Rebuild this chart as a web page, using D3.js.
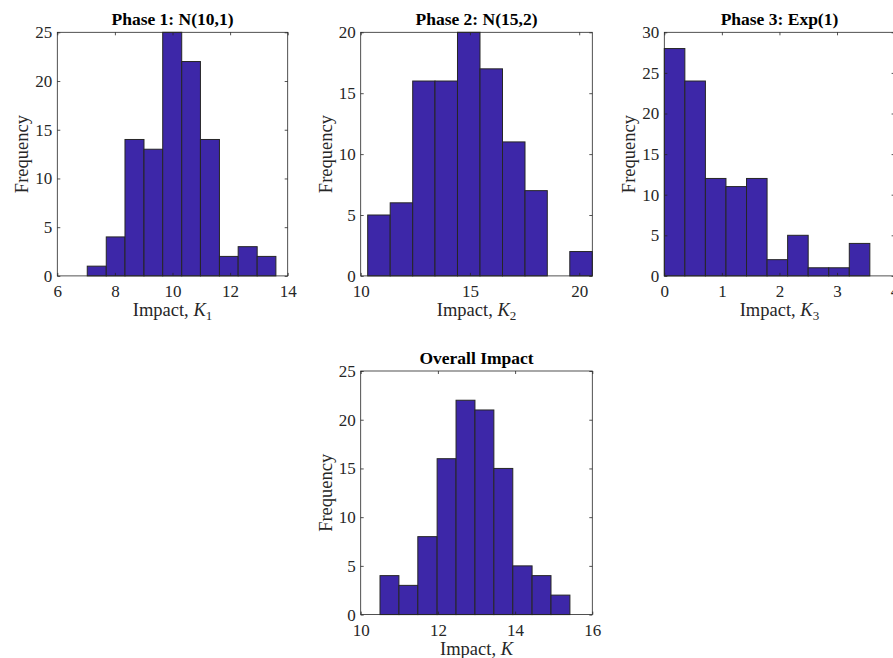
<!DOCTYPE html>
<html>
<head>
<meta charset="utf-8">
<script src="https://cdn.jsdelivr.net/npm/d3@7"></script>
<style>
  html, body { margin: 0; padding: 0; background: #ffffff; }
  svg { display: block; }
  svg text { font-family: "Liberation Serif", "DejaVu Serif", serif !important; }
</style>
</head>
<body>
<svg id="chart" width="893" height="658"></svg>
<script>
// ---------------- data ----------------
const phase1Edges  = [7.04, 7.70, 8.35, 9.01, 9.66, 10.32, 10.97, 11.63, 12.28, 12.94, 13.59];
const phase1Counts = [1, 4, 14, 13, 25, 22, 14, 2, 3, 2];

const phase2Edges  = [10.32, 11.35, 12.38, 13.40, 14.43, 15.46, 16.49, 17.52, 18.54, 19.57, 20.60];
const phase2Counts = [5, 6, 16, 16, 20, 17, 11, 7, 0, 2];

const phase3Edges  = [0, 0.357, 0.714, 1.071, 1.428, 1.785, 2.142, 2.499, 2.856, 3.213, 3.57];
const phase3Counts = [28, 24, 12, 11, 12, 2, 5, 1, 1, 4];

const overallEdges  = [10.5, 10.99, 11.48, 11.98, 12.47, 12.96, 13.45, 13.94, 14.44, 14.93, 15.42];
const overallCounts = [4, 3, 8, 16, 22, 21, 15, 5, 4, 2];

const titles    = ["Phase 1: N(10,1)", "Phase 2: N(15,2)", "Phase 3: Exp(1)", "Overall Impact"];
const xSubs     = ["1", "2", "3", ""];
const xDomains  = [[6, 14], [10, 20.6], [0, 4], [10, 16]];
const yDomains  = [[0, 25], [0, 20], [0, 30], [0, 25]];
const xTickVals = [[6, 8, 10, 12, 14], [10, 15, 20], [0, 1, 2, 3, 4], [10, 12, 14, 16]];
const yTickVals = [[0, 5, 10, 15, 20, 25], [0, 5, 10, 15, 20], [0, 5, 10, 15, 20, 25, 30], [0, 5, 10, 15, 20, 25]];

// ---------------- layout ----------------
const boxes = [
  { x: 57.3,  y: 32.3, w: 230.4, h: 243.6 },
  { x: 360.7, y: 32.3, w: 231.6, h: 243.6 },
  { x: 664.3, y: 32.3, w: 230.3, h: 243.6 },
  { x: 360.7, y: 371,  w: 231.6, h: 243.6 }
];
const edgesList  = [phase1Edges, phase2Edges, phase3Edges, overallEdges];
const countsList = [phase1Counts, phase2Counts, phase3Counts, overallCounts];

const FONT = '"Liberation Serif", "DejaVu Serif", serif';
const BAR_FILL = "#3d27a8";
const BAR_STROKE = "#262626";
const AXIS = "#262626";
const TICK = 3;

const svg = d3.select("#chart");

boxes.forEach((b, i) => {
  const g = svg.append("g").attr("transform", `translate(${b.x},${b.y})`);
  const x = d3.scaleLinear().domain(xDomains[i]).range([0, b.w]);
  const y = d3.scaleLinear().domain(yDomains[i]).range([b.h, 0]);

  const bins = countsList[i].map((c, k) => ({ x0: edgesList[i][k], x1: edgesList[i][k + 1], c }));

  // bars
  g.append("g").selectAll("rect").data(bins).join("rect")
    .attr("x", d => x(d.x0))
    .attr("y", d => y(d.c))
    .attr("width", d => x(d.x1) - x(d.x0))
    .attr("height", d => y(0) - y(d.c))
    .attr("fill", BAR_FILL)
    .attr("stroke", BAR_STROKE)
    .attr("stroke-width", 1);

  // axes (ticks pointing inward, mirrored on top/right)
  const styleAxis = sel => {
    sel.attr("font-family", FONT).attr("font-size", 17);
    sel.selectAll("path.domain").remove();
    sel.selectAll(".tick line").attr("stroke", AXIS).attr("stroke-width", 0.8);
    sel.selectAll(".tick text").attr("fill", AXIS)
      .style("font-family", FONT).style("font-size", "17px");
  };

  g.append("g").attr("transform", `translate(0,${b.h})`)
    .call(d3.axisBottom(x).tickValues(xTickVals[i]).tickFormat(d3.format("d"))
      .tickSizeInner(-TICK).tickSizeOuter(0).tickPadding(9))
    .call(styleAxis);
  g.append("g")
    .call(d3.axisTop(x).tickValues(xTickVals[i]).tickFormat("")
      .tickSizeInner(-TICK).tickSizeOuter(0))
    .call(styleAxis);
  g.append("g")
    .call(d3.axisLeft(y).tickValues(yTickVals[i]).tickFormat(d3.format("d"))
      .tickSizeInner(-TICK).tickSizeOuter(0).tickPadding(5))
    .call(styleAxis);
  g.append("g").attr("transform", `translate(${b.w},0)`)
    .call(d3.axisRight(y).tickValues(yTickVals[i]).tickFormat("")
      .tickSizeInner(-TICK).tickSizeOuter(0))
    .call(styleAxis);

  // box
  g.append("rect").attr("x", 0).attr("y", 0).attr("width", b.w).attr("height", b.h)
    .attr("fill", "none").attr("stroke", AXIS).attr("stroke-width", 0.8);

  // title
  g.append("text")
    .attr("x", b.w / 2).attr("y", -7)
    .attr("text-anchor", "middle")
    .style("font-family", FONT)
    .style("font-size", "17.5px").style("font-weight", "bold")
    .attr("fill", "#000")
    .text(titles[i]);

  // x label
  const xl = g.append("text")
    .attr("x", b.w / 2).attr("y", b.h + 40)
    .attr("text-anchor", "middle")
    .attr("fill", AXIS)
    .style("font-family", FONT)
    .style("font-size", "18.5px");
  xl.append("tspan").text("Impact, ");
  xl.append("tspan").style("font-style", "italic").text("K");
  if (xSubs[i]) xl.append("tspan").attr("dy", 4).style("font-size", "13px").text(xSubs[i]);

  // y label
  g.append("text")
    .attr("transform", `translate(-29,${b.h / 2}) rotate(-90)`)
    .attr("text-anchor", "middle")
    .attr("fill", AXIS)
    .style("font-family", FONT)
    .style("font-size", "18.5px")
    .text("Frequency");
});
</script>
</body>
</html>
